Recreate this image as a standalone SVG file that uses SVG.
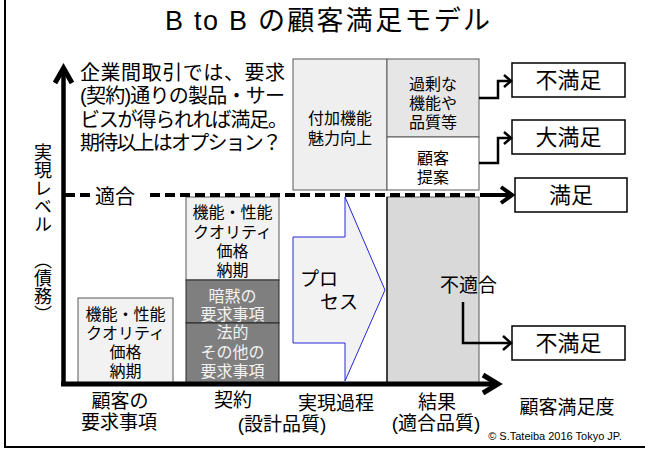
<svg xmlns="http://www.w3.org/2000/svg" width="645" height="450" viewBox="0 0 645 450">
<style>
text{font-family:"Liberation Sans","Noto Sans CJK JP",sans-serif;fill:#000}
.t20{font-size:20px}
.t19{font-size:19px}
.t16{font-size:16px;text-anchor:middle}
.lt{fill:#f2f2f2}
.res{font-size:22px;text-anchor:middle}
.box{stroke:#595959;stroke-width:1}
.conn{fill:none;stroke:#000;stroke-width:2.5}
.head{fill:none;stroke:#000;stroke-width:2.5;stroke-linejoin:miter}
.v{font-family:"Noto Sans CJK JP",sans-serif;font-size:18px;writing-mode:vertical-rl}
</style>
<rect x="5" y="-10" width="660" height="457" fill="#fff" stroke="#000" stroke-width="2"/>
<text x="165" y="30" font-size="27" textLength="82" lengthAdjust="spacing">B to B</text>
<text x="258" y="30" font-size="27" textLength="232" lengthAdjust="spacing">の顧客満足モデル</text>

<g id="note">
<text class="t20" x="80" y="80" textLength="205" lengthAdjust="spacing">企業間取引では、要求</text>
<text class="t20" x="80" y="103" textLength="205" lengthAdjust="spacing">(契約)通りの製品・サー</text>
<text class="t20" x="80" y="127" textLength="208" lengthAdjust="spacing">ビスが得られれば満足。</text>
<text class="t20" x="80" y="150" textLength="202" lengthAdjust="spacing">期待以上はオプション？</text>
</g>

<g id="ylabel">
<text class="v" x="43" y="143">実現レベル　︵債務︶</text>
</g>

<g id="added-value">
<rect class="box" x="293" y="59" width="94" height="131" fill="#efefef"/>
<text class="t16" x="340" y="124">付加機能</text>
<text class="t16" x="340" y="144">魅力向上</text>
</g>
<g id="excess">
<rect class="box" x="387" y="59" width="92" height="78" fill="#e6e6e6"/>
<text class="t16" x="433" y="90">過剰な</text>
<text class="t16" x="433" y="109">機能や</text>
<text class="t16" x="433" y="128">品質等</text>
</g>
<g id="proposal">
<rect class="box" x="387" y="137" width="92" height="53" fill="#fff"/>
<text class="t16" x="433" y="164">顧客</text>
<text class="t16" x="433" y="183">提案</text>
</g>

<g id="result">
<rect x="387" y="197" width="92" height="187" fill="#d9d9d9" stroke="#595959" stroke-width="1"/>
<line x1="387" y1="197" x2="387" y2="384" stroke="#000" stroke-width="1.2"/>
<text class="t19" x="440" y="292">不適合</text>
</g>

<g id="process">
<polygon points="293,237 345,237 345,197 385,290 345,381 345,343 293,343" fill="#f2f2f2" stroke="#2626d9" stroke-width="1"/>
<text class="t19" x="300" y="286">プロ</text>
<text class="t19" x="320" y="309">セス</text>
</g>

<g id="contract">
<rect class="box" x="186" y="197" width="93" height="83" fill="#f2f2f2"/>
<text class="t16" x="232.5" y="218">機能・性能</text>
<text class="t16" x="232.5" y="238">クオリティ</text>
<text class="t16" x="232.5" y="257">価格</text>
<text class="t16" x="232.5" y="276">納期</text>
<rect x="186" y="280" width="93" height="43" fill="#7f7f7f" stroke="#262626" stroke-width="1"/>
<text class="t16 lt" x="232.5" y="302">暗黙の</text>
<text class="t16 lt" x="232.5" y="320">要求事項</text>
<rect x="186" y="323" width="93" height="61" fill="#7f7f7f" stroke="#262626" stroke-width="1"/>
<text class="t16 lt" x="232.5" y="338">法的</text>
<text class="t16 lt" x="232.5" y="358">その他の</text>
<text class="t16 lt" x="232.5" y="377">要求事項</text>
</g>

<g id="customer-req">
<rect class="box" x="78" y="298" width="95" height="86" fill="#f2f2f2"/>
<text class="t16" x="125.5" y="320">機能・性能</text>
<text class="t16" x="125.5" y="339">クオリティ</text>
<text class="t16" x="125.5" y="358">価格</text>
<text class="t16" x="125.5" y="377">納期</text>
</g>

<g id="out-dissat1">
<rect x="512" y="63" width="113" height="34" fill="#fff" stroke="#000" stroke-width="1.5"/>
<text class="res" x="568.5" y="88">不満足</text>
</g>
<g id="out-delight">
<rect x="512" y="120" width="113" height="34" fill="#fff" stroke="#000" stroke-width="1.5"/>
<text class="res" x="568.5" y="145">大満足</text>
</g>
<g id="out-sat">
<rect x="515" y="178" width="112" height="34" fill="#fff" stroke="#000" stroke-width="1.5"/>
<text class="res" x="571" y="203">満足</text>
</g>
<g id="out-dissat2">
<rect x="512" y="326" width="113" height="34" fill="#fff" stroke="#000" stroke-width="1.5"/>
<text class="res" x="568.5" y="351">不満足</text>
</g>

<g id="connectors">
<line x1="65" y1="195" x2="92" y2="195" stroke="#000" stroke-width="4" stroke-dasharray="10,5"/>
<line x1="150" y1="195" x2="482" y2="195" stroke="#000" stroke-width="4" stroke-dasharray="10,5"/>
<line x1="480" y1="195" x2="510" y2="195" stroke="#000" stroke-width="4"/>
<polyline points="501,187 512,195 501,203" fill="none" stroke="#000" stroke-width="4"/>
<polyline class="conn" points="479,98 498,98 498,81 510,81"/>
<polyline class="head" points="504,75 511,81 504,87"/>
<polyline class="conn" points="479,163 498,163 498,138 510,138"/>
<polyline class="head" points="504,132 511,138 504,144"/>
<polyline class="conn" points="463,302 463,343 510,343"/>
<polyline class="head" points="503,336 511,343 503,350"/>
<line x1="63.5" y1="386" x2="63.5" y2="68" stroke="#000" stroke-width="4.5"/>
<polyline points="55,83 63.5,68 72,83" fill="none" stroke="#000" stroke-width="5"/>
<line x1="61" y1="384" x2="497" y2="384" stroke="#000" stroke-width="5"/>
<polyline points="483,375 498,384 483,393" fill="none" stroke="#000" stroke-width="5"/>
<text class="t20" x="95" y="204">適合</text>
</g>

<g id="xlabels" font-size="19" text-anchor="middle">
<text x="120" y="408" text-anchor="middle">顧客の</text>
<text x="119" y="429" text-anchor="middle">要求事項</text>
<text x="233" y="407" text-anchor="middle">契約</text>
<text x="282" y="431" text-anchor="middle">(設計品質)</text>
<text x="336" y="410" text-anchor="middle">実現過程</text>
<text x="437" y="409" text-anchor="middle">結果</text>
<text x="436" y="430" text-anchor="middle">(適合品質)</text>
<text x="567" y="414" text-anchor="middle">顧客満足度</text>
<text x="555" y="440" font-size="11" text-anchor="middle">© S.Tateiba 2016 Tokyo JP.</text>
</g>
</svg>
